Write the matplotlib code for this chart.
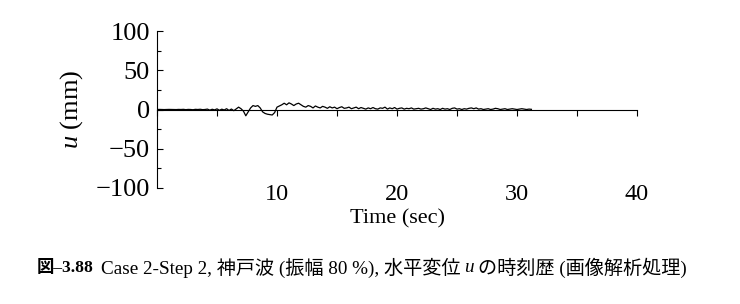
import numpy as np
import matplotlib.pyplot as plt
from matplotlib.ticker import MultipleLocator

dt = 0.2
u_mm = [
    0.0, 0.1, 0.0, -0.1, 0.0, 0.1, 0.0, 0.0, -0.1, 0.1,      # 0-2
    0.0, 0.2, -0.2, 0.1, 0.0, -0.3, 0.2, 0.0, 0.3, -0.2,     # 2-4
    0.0, 0.5, -0.8, 0.3, -0.5, 0.8, -1.0, 0.4, -0.6, 1.0,    # 4-6
    -1.2, 0.6, -1.5, 0.8, 3.0, 1.0, -2.0, -8.0, -3.0, 2.0,   # 6-8
    5.0, 4.0, 5.0, 2.0, -3.0, -5.0, -6.0, -6.5, -7.0, -4.0,  # 8-10
    3.0, 4.5, 6.0, 8.0, 6.0, 8.5, 7.0, 5.0, 7.0, 8.0,        # 10-12
    6.0, 4.0, 3.0, 5.0, 4.0, 2.0, 4.5, 3.0, 2.0, 4.0,        # 12-14
    3.0, 1.5, 3.5, 2.0, 3.0, 1.0, 2.5, 3.5, 1.5, 2.0,        # 14-16
    3.0, 1.0, 2.0, 3.0, 1.0, 2.5, 1.5, 0.5, 2.0, 1.0,        # 16-18
    2.5, 1.0, 0.5, 2.0, 1.5, 3.0, 0.5, 2.0, 1.0, 2.5,        # 18-20
    0.5, 1.5, 2.0, 0.5, 1.5, 1.0, 2.0, 0.5, 1.0, 1.5,        # 20-22
    0.5, 1.0, 2.0, 1.0, 0.0, 1.5, 0.5, 1.0, 0.0, 1.5,        # 22-24
    0.5, 1.0, 0.0, 1.5, 2.0, 0.5, 1.0, 0.0, 1.0, 0.5,        # 24-26
    1.5, 2.0, 1.0, 2.0, 0.5, 1.0, 0.0, 0.5, 1.0, 0.0,        # 26-28
    0.5, 1.5, 1.0, 0.0, 0.5, 1.0, 0.0, 0.5, 1.0, 0.5,        # 28-30
    0.0, 0.5, 1.0, 0.5, 0.0, 0.5, 0.2,                       # 30-31.2
]
time_s = np.arange(len(u_mm)) * dt

x_labels = [10, 20, 30, 40]
y_ticks = [-100, -50, 0, 50, 100]
# caption pieces: (text, weight, style, size)
caption = [
    ("図–3.88", 'bold', 'normal', 12.5),
    ("Case 2-Step 2, 神戸波 (振幅 80 %), 水平変位", 'normal', 'normal', 13.8),
    ("u", 'normal', 'italic', 13.8),
    ("の時刻歴 (画像解析処理)", 'normal', 'normal', 13.8),
]

serif = ['Liberation Serif', 'Noto Sans CJK JP']
plt.rcParams['font.family'] = serif
plt.rcParams['mathtext.fontset'] = 'custom'
plt.rcParams['mathtext.it'] = 'Liberation Serif:italic'
plt.rcParams['mathtext.rm'] = 'Liberation Serif'

fig = plt.figure(figsize=(7.4, 3.04), dpi=100)
ax = fig.add_axes([157/740, 1 - 188/304, 480/740, 157/304])

ax.plot(time_s, u_mm, color='black', lw=0.9)

ax.set_xlim(0, 40)
ax.set_ylim(-100, 100)

# x axis drawn along u = 0, ticks every 5 s pointing down
ax.spines['bottom'].set_position(('data', 0))
ax.spines['top'].set_visible(False)
ax.spines['right'].set_visible(False)
ax.set_xticks(np.arange(0, 41, 5))
ax.tick_params(axis='x', direction='out', length=4, width=0.8, labelbottom=False)

# tick labels below the plot
sec = ax.secondary_xaxis('bottom')
sec.spines['bottom'].set_visible(False)
sec.set_xticks(x_labels)
sec.tick_params(length=0, pad=-3, labelsize=17.5)
sec.set_xlabel('Time (sec)', fontsize=16, labelpad=3)

ax.set_yticks(y_ticks)
ax.yaxis.set_minor_locator(MultipleLocator(25))
ax.tick_params(axis='y', which='major', direction='in', length=4, width=0.8, labelsize=19, pad=5)
ax.tick_params(axis='y', which='minor', direction='in', length=3, width=0.8)
ax.set_ylabel('$\\it{u}$ (mm)', fontsize=19, labelpad=8)

# caption, laid out piece by piece
renderer = fig.canvas.get_renderer()
x_px = 37
y_fig = 1 - 268/304
gaps = [7, 4, 4, 0]
for (txt, weight, style, size), gap in zip(caption, gaps):
    t = fig.text(x_px/740, y_fig, txt, fontsize=size, fontweight=weight,
                 fontstyle=style, va='center', ha='left')
    x_px += t.get_window_extent(renderer).width + gap

fig.savefig('out.png', dpi=100)
